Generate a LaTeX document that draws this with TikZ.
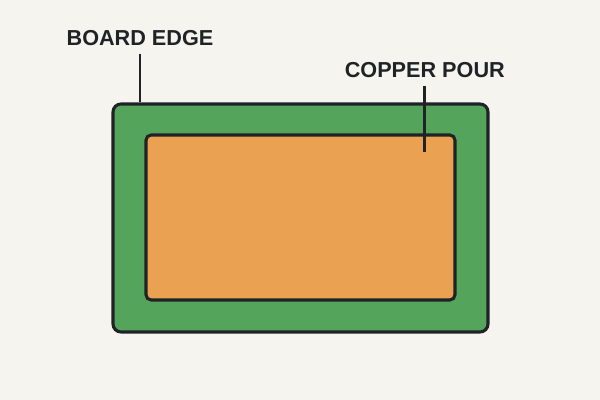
\documentclass[tikz,border=0pt]{standalone}
\usepackage{fontspec}
\setmainfont{Liberation Sans}
\usepackage{tikz}
\usepackage{xcolor}
\usetikzlibrary{positioning}

\definecolor{paper}{HTML}{F6F4EF}
\definecolor{boardgreen}{HTML}{55A45B}
\definecolor{copper}{HTML}{EBA152}
\definecolor{ink}{HTML}{1F2326}

\tikzset{
  layer/.style={draw=ink, line width=2.2pt, rounded corners=0.2cm, inner sep=0pt},
  callout/.style={color=ink, inner sep=0.19cm, font=\bfseries\fontsize{15.4}{18}\selectfont},
  leader/.style={ink, line width=1.9pt}
}

\begin{document}
\begin{tikzpicture}

\fill [paper] (0cm,0cm) rectangle (15cm,10cm);
\useasboundingbox (0cm,0cm) rectangle (15cm,10cm);

% board outline and copper pour
\node [layer, fill=boardgreen, minimum width=9.375cm, minimum height=5.7cm] (board) at (7.5125cm,4.55cm) {};
\node [layer, fill=copper, rounded corners=0.13cm, minimum width=7.725cm, minimum height=4.125cm] (pour) at (7.5125cm,4.5625cm) {};

% labels
\node [callout] (edgelabel) at (3.5cm,9.05cm) {BOARD EDGE};
\node [callout] (pourlabel) at (10.62cm,8.25cm) {COPPER POUR};

\coordinate (pourpin) at (pourlabel.south |- 0cm,6.2cm);

\draw [leader] (edgelabel.south) -- (edgelabel.south |- board.north);
\draw [leader] (pourlabel.south) -- (pourpin);

\end{tikzpicture}
\end{document}
